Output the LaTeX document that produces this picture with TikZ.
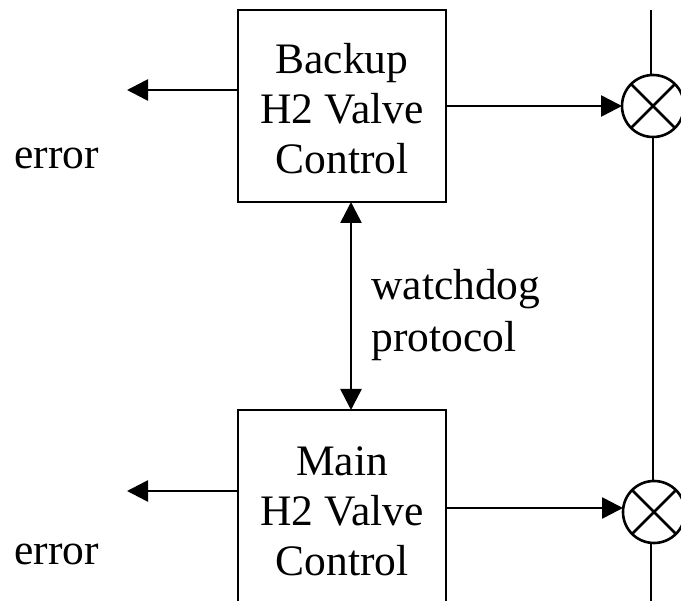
\documentclass[tikz,border=0pt]{standalone}
\usepackage{fontspec}
\setmainfont{Liberation Serif}
\usetikzlibrary{arrows.meta}
\newcommand{\toppad}{\rule{0pt}{36pt}}
\begin{document}
\begin{tikzpicture}[x=1pt,y=-1pt,
  line width=2.6pt,
  every node/.style={font=\fontsize{43.5}{50}\selectfont},
  ctrlbox/.style={draw,rectangle,minimum width=208pt,minimum height=192pt,align=center,inner sep=0pt,outer sep=0pt},
  mult/.style={draw,circle,minimum size=62pt,inner sep=0pt,outer sep=0pt},
  arr/.style={-{Triangle[length=21pt,width=21pt]}},
  darr/.style={{Triangle[length=21pt,width=21pt]}-{Triangle[length=21pt,width=21pt]}},
  lbl/.style={anchor=base west,inner sep=0pt}]
\useasboundingbox (0,0) rectangle (681,601);
\node[ctrlbox] (b) at (342,106) {\toppad Backup\\H2 Valve\\Control};
\node[ctrlbox,minimum height=196pt] (m) at (342,508) {\toppad Main\\H2 Valve\\Control};
\node[mult] (m1) at (653,106) {};
\node[mult] (m2) at (654,512) {};
\draw (m1.45) -- (m1.225) (m1.135) -- (m1.315);
\draw (m2.45) -- (m2.225) (m2.135) -- (m2.315);
\coordinate (vt) at (651,10);
\coordinate (vb) at (651,604);
\draw (vt) -- (vt |- m1.north);
\draw (m1.south) -- (m1.south |- m2.north);
\draw (vb |- m2.south) -- (vb);
\coordinate (e1) at (127,90);
\coordinate (e2) at (127,491);
\draw[arr] (e1 -| b.west) -- (e1);
\draw[arr] (e2 -| m.west) -- (e2);
\draw[arr] (b.east) -- (m1.west);
\draw[arr] (m.east) -- (m.east -| m2.west);
\coordinate (w) at (351,300);
\draw[darr] (w |- b.south) -- (w |- m.north);
\node[lbl] (wd) at (370,300) {watchdog};
\node[lbl] (pr) at (370,352) {protocol};
\node[lbl] (err1) at (13,169) {error};
\node[lbl] (err2) at (13,565) {error};
\end{tikzpicture}
\end{document}
